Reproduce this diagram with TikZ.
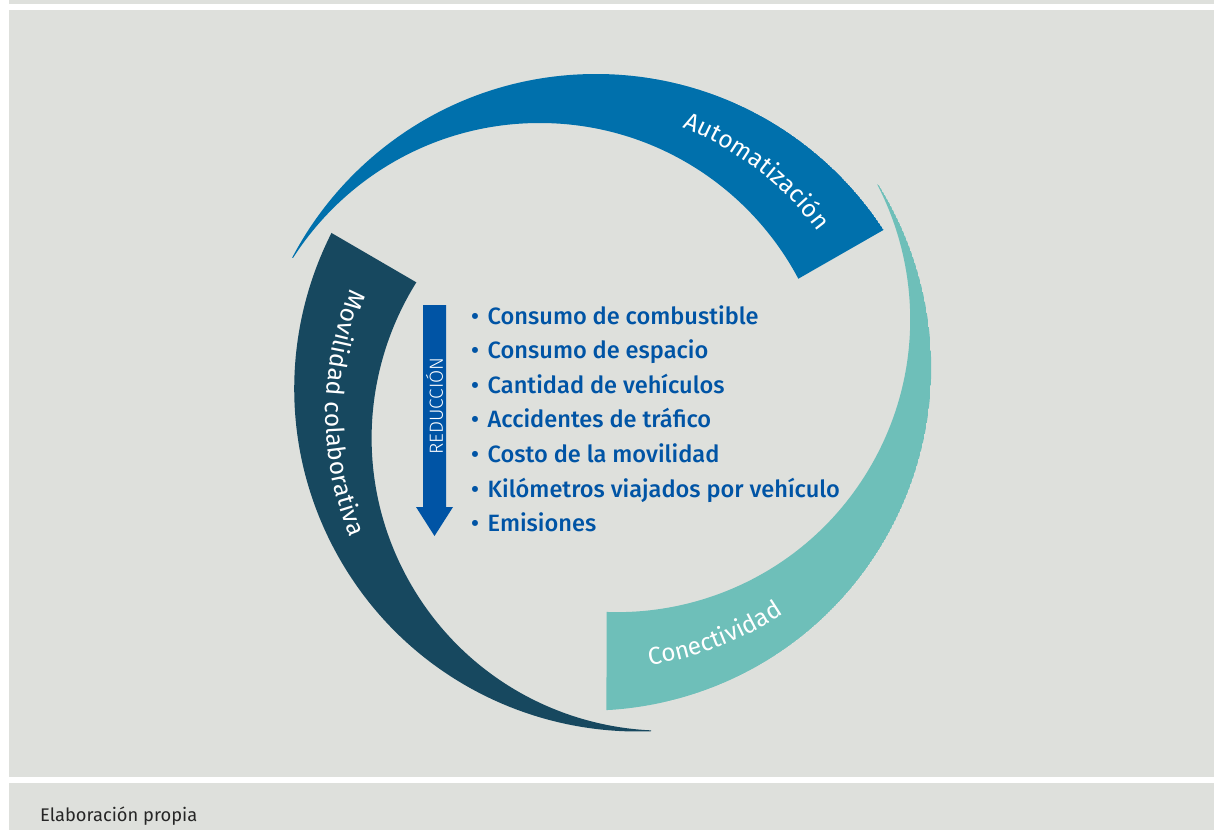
\documentclass[tikz,border=0pt]{standalone}
\usepackage{fontspec}
\setmainfont{Fira Sans}
\newfontfamily\mediumfont{Fira Sans Medium}
\newfontfamily\lightfont{Fira Sans Light}
\usetikzlibrary{decorations.text,calc}
\definecolor{bg}{RGB}{222,224,220}
\definecolor{autoblue}{RGB}{0,112,172}
\definecolor{darkpetrol}{RGB}{23,72,95}
\definecolor{tealc}{RGB}{110,191,185}
\definecolor{listblue}{RGB}{0,84,165}
% crescent (blue frame): outer circle C_o=(-8,-27) r=343, inner circle C_i=(-64.4,-25.7) r=292.7
% #1 rotation, #2 colour, #3 shift
\newcommand\crescentshape[3]{%
  \begin{scope}[shift={#3}, rotate=#1]
    \clip (-8pt,-27pt) circle [radius=343pt];
    \clip (0pt,0pt) -- (29.8:700pt) arc [start angle=29.8,end angle=157,radius=700pt] -- cycle;
    \fill[#2,even odd rule] (-8pt,-27pt) circle [radius=343pt] (-64.4pt,-25.7pt) circle [radius=292.7pt];
  \end{scope}}
\newcommand\arcfont{\color{white}\fontsize{24.5}{24.5}\selectfont}
\tikzset{
  listitem/.style={anchor=base west, inner sep=0pt, text=listblue, font=\mediumfont\fontsize{23.6}{23.6}\selectfont},
  arclabel/.style={decorate, decoration={text along path, text align=center, text={#1}}}
}
\begin{document}
\begin{tikzpicture}[x=1pt,y=1pt]
\useasboundingbox (0,0) rectangle (1214,-830);
\fill[white] (0,0) rectangle (1214,-830);
\fill[bg] (9,0) rectangle (1214,-4);
\fill[bg] (9,-10) rectangle (1214,-777);
\fill[bg] (9,-783) rectangle (1214,-830);

\begin{scope}[shift={(604,-390)}]
  \crescentshape{0}{autoblue}{(0pt,0pt)}
  \crescentshape{120}{darkpetrol}{(5.9pt,-5pt)}
  \crescentshape{240}{tealc}{(3.5pt,2pt)}
  % labels follow the middle line of each band (circle about (-36.2,-26.35))
  \begin{scope}
    \path[arclabel={|\arcfont|Automatización}] ($(-36.2pt,-26.35pt)+(82.4:311pt)$) arc [start angle=82.4,end angle=22.4,radius=311pt];
  \end{scope}
  \begin{scope}[shift={(5.9pt,-5pt)}, rotate=120]
    \path[arclabel={|\arcfont|Movilidad colaborativa}] ($(-36.2pt,-26.35pt)+(15:325pt)$) arc [start angle=15,end angle=105,radius=325pt];
  \end{scope}
  \begin{scope}[shift={(3.5pt,2pt)}, rotate=240]
    \path[arclabel={|\arcfont|Conectividad}] ($(-36.2pt,-26.35pt)+(21:325pt)$) arc [start angle=21,end angle=81,radius=325pt];
  \end{scope}
\end{scope}

% arrow
\fill[listblue] (423,-305) -- (446,-305) -- (446,-507) -- (453,-507) -- (434.5,-536) -- (416,-507) -- (423,-507) -- cycle;
\node[rotate=90, text=white, inner sep=0pt, font=\lightfont\fontsize{19}{19}\selectfont] (red) at (434.5,-406) {REDUCCIÓN};

\node[listitem] (l1) at (471,-324) {\makebox[16.5pt][l]{•}Consumo de combustible};
\node[listitem] (l2) at (471,-358.6) {\makebox[16.5pt][l]{•}Consumo de espacio};
\node[listitem] (l3) at (471,-393.2) {\makebox[16.5pt][l]{•}Cantidad de vehículos};
\node[listitem] (l4) at (471,-427.8) {\makebox[16.5pt][l]{•}Accidentes de tráfico};
\node[listitem] (l5) at (471,-462.4) {\makebox[16.5pt][l]{•}Costo de la movilidad};
\node[listitem] (l6) at (471,-497) {\makebox[16.5pt][l]{•}Kilómetros viajados por vehículo};
\node[listitem] (l7) at (471,-531.6) {\makebox[16.5pt][l]{•}Emisiones};

\node[anchor=base west, inner sep=0pt, text=black!85, font=\fontsize{18.3}{18.3}\selectfont] (src) at (40,-821.5) {Elaboración propia};
\end{tikzpicture}
\end{document}
